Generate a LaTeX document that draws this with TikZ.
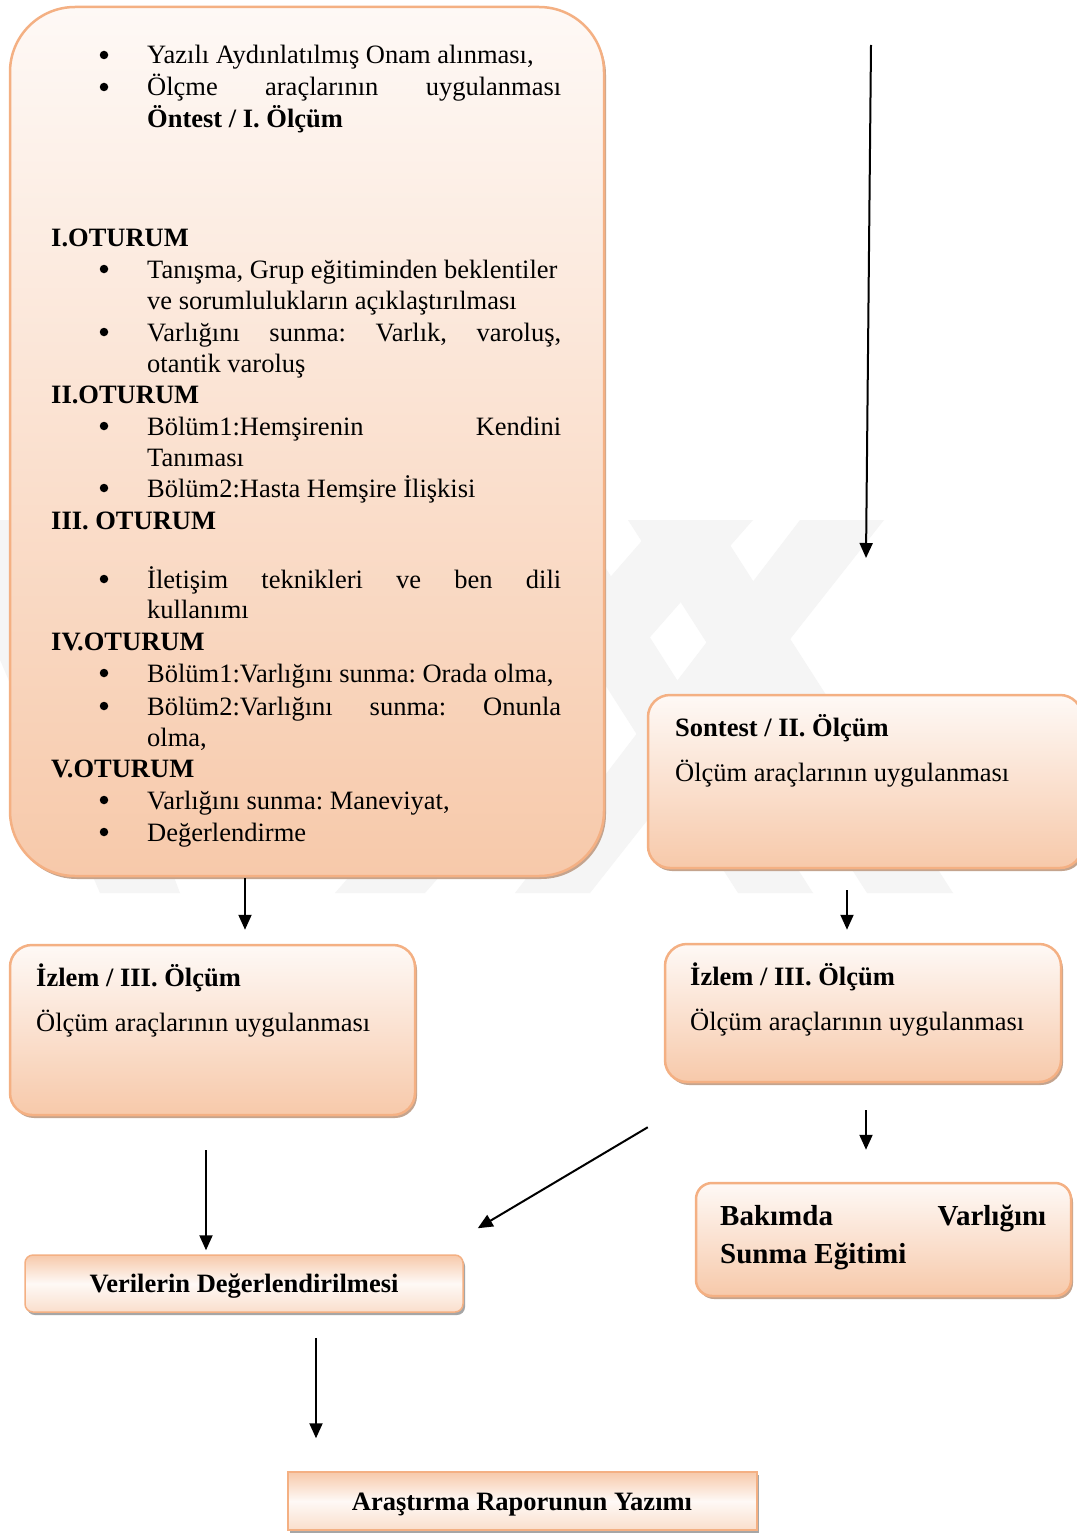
\documentclass[tikz,border=0pt]{standalone}
\usepackage{fontspec}
\setmainfont{Liberation Serif}
\usetikzlibrary{shadows,arrows.meta}
\definecolor{peach}{RGB}{247,201,170}
\definecolor{peachlight}{RGB}{254,249,246}
\definecolor{peachline}{RGB}{244,176,131}
\definecolor{shade}{RGB}{196,164,142}
\newcommand{\jline}[1]{\makebox[414pt][s]{#1}}
\frenchspacing

\begin{document}
\begin{tikzpicture}[x=1pt,y=-1pt]
\fontsize{26.5}{31.5}\selectfont
\tikzstyle{box}=[draw=peachline, line width=2.5pt, top color=peachlight, bottom color=peach, drop shadow={shadow xshift=2pt, shadow yshift=-3pt, fill=shade, opacity=1}]
\tikzstyle{bar}=[draw=peachline, line width=1.5pt, top color=peach, bottom color=peach!60, middle color=peachlight, drop shadow={shadow xshift=2pt, shadow yshift=-3pt, fill=black!35, opacity=1}]
\tikzstyle{txt}=[inner sep=0pt, anchor=base west]
\tikzstyle{dot}=[circle, fill=black, inner sep=0pt, minimum size=8.5pt]
\tikzstyle{arr}=[-{Triangle[length=15pt,width=13pt]}, line width=2pt]
\path[use as bounding box, fill=white] (0,0) rectangle (1076,1533);
% watermark
\foreach \a/\b/\c/\d in {660/753/425/335, 800/884/590/515, 500/575/813/738, 628/714/953/867, -60/40/180/100}
    \fill[black!4] (\a,520) -- (\b,520) -- (\c,893) -- (\d,893) -- cycle;
% boxes
\node[box, rounded corners=65pt, minimum width=594pt, minimum height=869pt] (plan) at (307,441.5) {};
\node[box, rounded corners=22pt, minimum width=434pt, minimum height=173pt] (sontest) at (865,781.5) {};
\node[box, rounded corners=22pt, minimum width=405pt, minimum height=170pt] (izlemL) at (212.5,1030) {};
\node[box, rounded corners=22pt, minimum width=396pt, minimum height=138pt] (izlemR) at (863,1013) {};
\node[box, rounded corners=16pt, minimum width=375pt, minimum height=113pt] (egitim) at (883.5,1239.5) {};
\node[bar, rounded corners=8pt, minimum width=438pt, minimum height=57pt] (veri) at (244,1283.5) {};
\node[bar, minimum width=469pt, minimum height=58pt] (rapor) at (522.5,1501) {};
% plan text
\foreach \y/\t [count=\i] in {246/I.OTURUM, 403/II.OTURUM, 529/III. OTURUM, 650/IV.OTURUM, 777/V.OTURUM}
    \node[txt, font=\bfseries] (h\i) at (51,\y) {\t};
\foreach \y [count=\i] in {64,96,278,341,435,497,588,682,715,809,841}
    \node[dot] (b\i) at (104,\y-9) {};
\foreach \y/\t [count=\i] in {64/{Yazılı Aydınlatılmış Onam alınması,},
    96/{\jline{Ölçme araçlarının uygulanması}}, 128/{\textbf{Öntest / I. Ölçüm}},
    278/{Tanışma, Grup eğitiminden beklentiler}, 309/{ve sorumlulukların açıklaştırılması},
    341/{\jline{Varlığını sunma: Varlık, varoluş,}}, 372/{otantik varoluş},
    435/{\jline{Bölüm1:Hemşirenin Kendini}}, 466/{Tanıması}, 497/{Bölüm2:Hasta Hemşire İlişkisi},
    588/{\jline{İletişim teknikleri ve ben dili}}, 618/{kullanımı},
    682/{Bölüm1:Varlığını sunma: Orada olma,}, 715/{\jline{Bölüm2:Varlığını sunma: Onunla}},
    746/{olma,}, 809/{Varlığını sunma: Maneviyat,}, 841/{Değerlendirme}}
    \node[txt] (t\i) at (147,\y) {\t};
% box text
\node[txt, font=\bfseries] (s1) at (675,736) {Sontest / II. Ölçüm};
\node[txt] (s2) at (675,781) {Ölçüm araçlarının uygulanması};
\node[txt, font=\bfseries] (l1) at (36,986) {İzlem / III. Ölçüm};
\node[txt] (l2) at (36,1031) {Ölçüm araçlarının uygulanması};
\node[txt, font=\bfseries] (r1) at (690,985) {İzlem / III. Ölçüm};
\node[txt] (r2) at (690,1030) {Ölçüm araçlarının uygulanması};
\node[txt, font=\fontsize{29}{38}\bfseries] (e1) at (720,1225) {\makebox[326pt][s]{Bakımda Varlığını}};
\node[txt, font=\fontsize{29}{38}\bfseries] (e2) at (720,1263) {Sunma Eğitimi};
\node[inner sep=0pt, anchor=base, font=\bfseries] (v1) at (244,1292) {Verilerin Değerlendirilmesi};
\node[inner sep=0pt, anchor=base, font=\bfseries] (a1) at (522,1510) {Araştırma Raporunun Yazımı};
% arrows
\coordinate (ust) at (871,45);
\coordinate (alt) at (866,558);
\draw[arr] (ust) -- (alt);
\draw[arr, shorten <=1pt, shorten >=14pt] ([xshift=-62pt]plan.south) -- ([xshift=32.5pt]izlemL.north);
\draw[arr, shorten <=21pt, shorten >=13pt] ([xshift=-18pt]sontest.south) -- ([xshift=-16pt]izlemR.north);
\draw[arr, shorten <=34pt, shorten >=4pt] ([xshift=-6.5pt]izlemL.south) -- ([xshift=-38pt]veri.north);
\draw[arr] ([shift={(-16,44)}]izlemR.south west) -- ([shift={(14,-26)}]veri.north east);
\draw[arr, shorten <=27pt, shorten >=32pt] ([xshift=3pt]izlemR.south) -- ([xshift=-17.5pt]egitim.north);
\draw[arr, shorten <=25pt, shorten >=33pt] ([xshift=72pt]veri.south) -- ([xshift=-206.5pt]rapor.north);
\end{tikzpicture}
\end{document}
